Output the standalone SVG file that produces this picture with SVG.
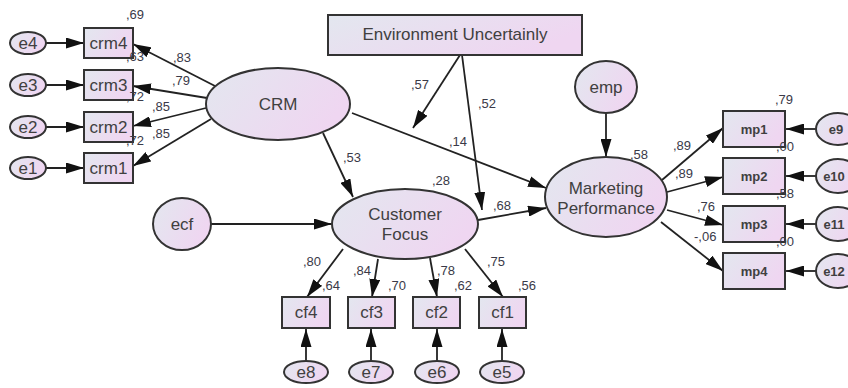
<svg xmlns="http://www.w3.org/2000/svg" width="848" height="388" viewBox="0 0 848 388">
<defs>
<linearGradient id="g" x1="0" y1="0" x2="1" y2="0.4">
<stop offset="0" stop-color="#e3e7ef"/>
<stop offset="1" stop-color="#efd6f1"/>
</linearGradient>
<marker id="ah" viewBox="0 0 18 11" refX="18" refY="5.5" markerWidth="18" markerHeight="11" markerUnits="userSpaceOnUse" orient="auto">
<path d="M0,0 L18,5.5 L0,11 z" fill="#111"/>
</marker>
</defs>
<style>
.n{fill:url(#g);stroke:#333;stroke-width:2}
.t{font-family:"Liberation Sans",Arial,sans-serif;fill:#404040;text-anchor:middle;dominant-baseline:central}
.s{font-size:17px}
.m{font-size:17px}
.x{font-size:13px;font-weight:bold}
.l{font-family:"Liberation Sans",Arial,sans-serif;font-size:13px;fill:#3a3a48}
.c line{stroke:#222;stroke-width:1.8;marker-end:url(#ah)}
</style>
<g class="c" id="connectors">
<line x1="46" y1="43" x2="84" y2="43"/>
<line x1="46" y1="85" x2="84" y2="85"/>
<line x1="46" y1="127" x2="84" y2="127"/>
<line x1="46" y1="168" x2="84" y2="168"/>
<line x1="215" y1="86" x2="133" y2="44"/>
<line x1="207" y1="98" x2="133" y2="86"/>
<line x1="206" y1="108" x2="133" y2="126"/>
<line x1="211" y1="119" x2="133" y2="166"/>
<line x1="460" y1="55" x2="413" y2="128"/>
<line x1="462" y1="55" x2="482" y2="210"/>
<line x1="352" y1="113" x2="546" y2="188"/>
<line x1="323" y1="133" x2="353" y2="197"/>
<line x1="211" y1="224" x2="332" y2="224"/>
<line x1="478" y1="220" x2="546" y2="208"/>
<line x1="606" y1="113" x2="606" y2="157"/>
<line x1="662" y1="180" x2="723" y2="128"/>
<line x1="667" y1="192" x2="723" y2="177"/>
<line x1="667" y1="210" x2="723" y2="225"/>
<line x1="661" y1="222" x2="723" y2="271"/>
<line x1="816" y1="129" x2="786" y2="129"/>
<line x1="816" y1="176" x2="786" y2="176"/>
<line x1="816" y1="224" x2="786" y2="224"/>
<line x1="816" y1="271" x2="786" y2="271"/>
<line x1="343" y1="249" x2="307" y2="297"/>
<line x1="378" y1="259" x2="372" y2="297"/>
<line x1="430" y1="258" x2="437" y2="297"/>
<line x1="465" y1="249" x2="503" y2="297"/>
<line x1="306" y1="361" x2="306" y2="329"/>
<line x1="371" y1="361" x2="371" y2="329"/>
<line x1="437" y1="361" x2="437" y2="329"/>
<line x1="502" y1="361" x2="502" y2="329"/>
</g>
<g id="e4"><ellipse class="n" cx="28" cy="43" rx="18" ry="11"/><text class="t s" x="28" y="43">e4</text></g>
<g id="e3"><ellipse class="n" cx="28" cy="85" rx="18" ry="11"/><text class="t s" x="28" y="85">e3</text></g>
<g id="e2"><ellipse class="n" cx="28" cy="127" rx="18" ry="11"/><text class="t s" x="28" y="127">e2</text></g>
<g id="e1"><ellipse class="n" cx="28" cy="168" rx="18" ry="11"/><text class="t s" x="28" y="168">e1</text></g>
<g id="crm4"><rect class="n" x="84" y="28" width="49" height="30"/><text class="t s" x="108.5" y="43">crm4</text></g>
<g id="crm3"><rect class="n" x="84" y="70" width="49" height="30"/><text class="t s" x="108.5" y="85">crm3</text></g>
<g id="crm2"><rect class="n" x="84" y="112" width="49" height="30"/><text class="t s" x="108.5" y="127">crm2</text></g>
<g id="crm1"><rect class="n" x="84" y="153" width="49" height="30"/><text class="t s" x="108.5" y="168">crm1</text></g>
<g id="crm"><ellipse class="n" cx="278" cy="104" rx="72" ry="36"/><text class="t m" x="278" y="104">CRM</text></g>
<g id="env"><rect class="n" x="328" y="15" width="254" height="40"/><text class="t m" x="455" y="34">Environment Uncertainly</text></g>
<g id="emp"><ellipse class="n" cx="606" cy="87" rx="31" ry="26"/><text class="t m" x="606" y="87">emp</text></g>
<g id="mp"><ellipse class="n" cx="606" cy="197" rx="61" ry="40"/><text class="t m" x="606" y="188">Marketing</text><text class="t m" x="606" y="208">Performance</text></g>
<g id="cf"><ellipse class="n" cx="405" cy="224" rx="73" ry="35"/><text class="t m" x="405" y="214">Customer</text><text class="t m" x="405" y="234">Focus</text></g>
<g id="ecf"><ellipse class="n" cx="182" cy="224" rx="29" ry="26"/><text class="t m" x="182" y="224">ecf</text></g>
<g id="mp1"><rect class="n" x="723" y="111" width="62" height="36"/><text class="t x" x="754" y="129">mp1</text></g>
<g id="mp2"><rect class="n" x="723" y="158" width="62" height="36"/><text class="t x" x="754" y="176">mp2</text></g>
<g id="mp3"><rect class="n" x="723" y="206" width="62" height="36"/><text class="t x" x="754" y="224">mp3</text></g>
<g id="mp4"><rect class="n" x="723" y="253" width="62" height="36"/><text class="t x" x="754" y="271">mp4</text></g>
<g id="e9"><ellipse class="n" cx="838" cy="129" rx="22" ry="16"/><text class="t x" x="836" y="129">e9</text></g>
<g id="e10"><ellipse class="n" cx="838" cy="176" rx="22" ry="17"/><text class="t x" x="834" y="176">e10</text></g>
<g id="e11"><ellipse class="n" cx="838" cy="224" rx="22" ry="17"/><text class="t x" x="834" y="224">e11</text></g>
<g id="e12"><ellipse class="n" cx="838" cy="271" rx="22" ry="17"/><text class="t x" x="834" y="271">e12</text></g>
<g id="cf4"><rect class="n" x="282" y="297" width="48" height="31"/><text class="t s" x="306" y="312.5">cf4</text></g>
<g id="cf3"><rect class="n" x="348" y="297" width="47" height="31"/><text class="t s" x="371.5" y="312.5">cf3</text></g>
<g id="cf2"><rect class="n" x="413" y="297" width="47" height="31"/><text class="t s" x="436.5" y="312.5">cf2</text></g>
<g id="cf1"><rect class="n" x="479" y="297" width="47" height="31"/><text class="t s" x="502.5" y="312.5">cf1</text></g>
<g id="e8"><ellipse class="n" cx="306" cy="372" rx="22" ry="11"/><text class="t s" x="306" y="372">e8</text></g>
<g id="e7"><ellipse class="n" cx="371" cy="372" rx="22" ry="11"/><text class="t s" x="371" y="372">e7</text></g>
<g id="e6"><ellipse class="n" cx="437" cy="372" rx="22" ry="11"/><text class="t s" x="437" y="372">e6</text></g>
<g id="e5"><ellipse class="n" cx="502" cy="372" rx="22" ry="11"/><text class="t s" x="502" y="372">e5</text></g>
<g id="labels">
<text class="l" x="126" y="19">,69</text>
<text class="l" x="173" y="62">,83</text>
<text class="l" x="126" y="61">,63</text>
<text class="l" x="172" y="85">,79</text>
<text class="l" x="126" y="101">,72</text>
<text class="l" x="152" y="111">,85</text>
<text class="l" x="126" y="145">,72</text>
<text class="l" x="152" y="138">,85</text>
<text class="l" x="411" y="89">,57</text>
<text class="l" x="478" y="108">,52</text>
<text class="l" x="449" y="146">,14</text>
<text class="l" x="343" y="162">,53</text>
<text class="l" x="432" y="185">,28</text>
<text class="l" x="493" y="210">,68</text>
<text class="l" x="630" y="159">,58</text>
<text class="l" x="775" y="104">,79</text>
<text class="l" x="673" y="150">,89</text>
<text class="l" x="675" y="178">,89</text>
<text class="l" x="776" y="151">,00</text>
<text class="l" x="697" y="211">,76</text>
<text class="l" x="776" y="198">,58</text>
<text class="l" x="694" y="241">-,06</text>
<text class="l" x="776" y="246">,00</text>
<text class="l" x="303" y="266">,80</text>
<text class="l" x="322" y="290">,64</text>
<text class="l" x="353" y="275">,84</text>
<text class="l" x="388" y="290">,70</text>
<text class="l" x="437" y="275">,78</text>
<text class="l" x="454" y="290">,62</text>
<text class="l" x="487" y="266">,75</text>
<text class="l" x="518" y="290">,56</text>
</g>
</svg>
